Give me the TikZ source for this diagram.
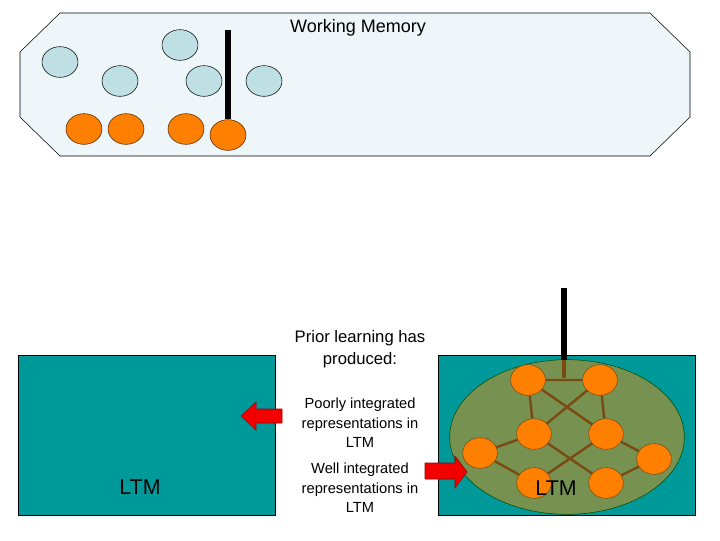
\documentclass[tikz,border=0pt]{standalone}
\usepackage{fontspec}
\setmainfont{Liberation Sans}
\usetikzlibrary{shapes.geometric}
\definecolor{lb}{HTML}{BEDFE3}
\definecolor{tl}{HTML}{009999}
\definecolor{ol}{HTML}{779150}
\definecolor{org}{HTML}{FF8000}
\definecolor{br}{HTML}{7A4A12}
\begin{document}
\begin{tikzpicture}[x=0.75pt,y=-0.75pt,
 bc/.style={ellipse,draw=black,fill=lb,minimum width=27pt,minimum height=23pt,inner sep=0pt},
 oc/.style={ellipse,draw=black!70!orange,fill=org,minimum width=27pt,minimum height=23pt,inner sep=0pt},
 on/.style={ellipse,draw=br,fill=org,minimum width=26pt,minimum height=23pt,inner sep=0pt},
 ed/.style={draw=br,line width=1.8pt},
 ltm/.style={draw=black,fill=tl},
 arr/.style={draw=red!60!black,fill=red!95!black},
 txt/.style={align=center,font=\fontsize{11}{14.5}\selectfont}]
\useasboundingbox (0,0) rectangle (720,540);
\draw[fill=cyan!5!white!95!gray] (60,13)--(650,13)--(690,52)--(690,117)--(650,156)--(60,156)--(20,117)--(20,52)--cycle;
\node at (358,28) {\fontsize{13.5}{15}\selectfont Working Memory};
\node[bc] (b1) at (60,62) {};
\node[bc] (b2) at (120,81) {};
\node[bc] (b3) at (180,45) {};
\node[bc] (b4) at (204,81) {};
\node[bc] (b5) at (264,81) {};
\node[oc] (o1) at (84,129) {};
\node[oc] (o2) at (126,129) {};
\node[oc] (o3) at (186,129) {};
\node[oc] (o4) at (228,135) {};
\coordinate (t1) at (228,30);
\draw[line width=4pt] (t1) -- (o4.north);
\node[ltm,minimum width=193pt,minimum height=120pt,inner sep=0pt] (L1) at (147,435) {};
\node at (140,487) {\fontsize{16}{18}\selectfont LTM};
\node[ltm,minimum width=193pt,minimum height=120pt,inner sep=0pt] (L2) at (567,435) {};
\draw[draw=black!70!green,fill=ol] (567,437) ellipse (88pt and 58pt);
\node[on] (A) at (528,380) {};
\node[on] (B) at (600,380) {};
\node[on] (C) at (534,434) {};
\node[on] (D) at (606,434) {};
\node[on] (E) at (480,453) {};
\node[on] (F) at (654,459) {};
\node[on] (G) at (534,483) {};
\node[on] (H) at (606,483) {};
\coordinate (t2) at (564,288);
\coordinate (j) at (564,378);
\draw[line width=4pt] (t2) -- (564,360);
\draw[ed,line width=3pt] (564,360) -- (j);
\draw[ed] (A) -- (B) (A) -- (C) (B) -- (D) (A) -- (D) (B) -- (C) (C) -- (E) (C) -- (H) (D) -- (G) (D) -- (F) (E) -- (G) (F) -- (H);
\node at (556,488) {\fontsize{16}{18}\selectfont LTM};
\node[txt,font=\fontsize{12.5}{16.5}\selectfont] at (360,349) {Prior learning has\\produced:};
\node[txt] at (360,423) {Poorly integrated\\representations in\\LTM};
\node[txt] at (360,488) {Well integrated\\representations in\\LTM};
\draw[arr] (282,409)--(256,409)--(256,402)--(241,416)--(256,430)--(256,423)--(282,423)--cycle;
\draw[arr] (425,463)--(455,463)--(455,456)--(467,472)--(455,488)--(455,479)--(425,479)--cycle;
\end{tikzpicture}
\end{document}
